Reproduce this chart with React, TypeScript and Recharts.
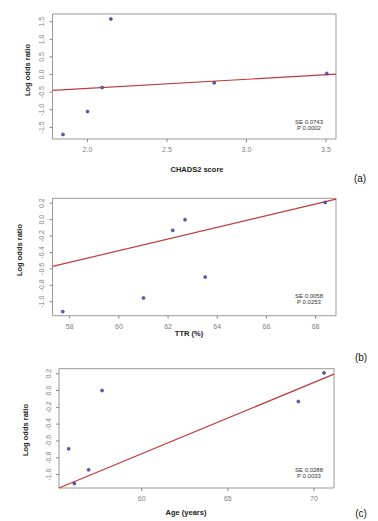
import React from 'react';
import { ScatterChart, Scatter, XAxis, YAxis, ReferenceArea, ReferenceLine } from 'recharts';

const FONT = '"Liberation Sans", Arial, sans-serif';

// (a) CHADS2 score
const chadsX = [1.846, 2.0, 2.092, 2.147, 2.797, 3.505];
const chadsY = [-1.7, -1.05, -0.37, 1.58, -0.236, 0.03];
const chadsXTicks = [2.0, 2.5, 3.0, 3.5];
const chadsYTicks = [-1.5, -1.0, -0.5, 0.0, 0.5, 1.0, 1.5];
const chadsFit = { intercept: -0.909, slope: 0.258 };
const chadsStats = ['SE 0.0743', 'P 0.0002'];

// (b) TTR
const ttrX = [57.72, 61.0, 62.19, 62.69, 63.51, 68.39];
const ttrY = [-1.12, -0.954, -0.13, 0.0, -0.7, 0.21];
const ttrXTicks = [58, 60, 62, 64, 66, 68];
const ttrYTicks = [-1.0, -0.8, -0.6, -0.4, -0.2, 0.0, 0.2];
const ttrFit = { intercept: -4.644, slope: 0.0711 };
const ttrStats = ['SE 0.0058', 'P 0.0253'];

// (c) Age
const ageX = [55.76, 56.09, 56.92, 57.7, 69.09, 70.58];
const ageY = [-0.694, -1.107, -0.944, 0.0, -0.13, 0.21];
const ageXTicks = [60, 65, 70];
const ageYTicks = [-1.0, -0.8, -0.6, -0.4, -0.2, 0.0, 0.2];
const ageFit = { intercept: -5.846, slope: 0.0849 };
const ageStats = ['SE 0.0288', 'P 0.0033'];

const toPoints = (xs: number[], ys: number[]) => xs.map((x, i) => ({ x, y: ys[i] }));

const Dot = (props: any) => (
  <circle cx={props.cx} cy={props.cy} r={1.5} fill="#6464b4" stroke="#2e2e80" strokeWidth={0.6} />
);

const YTick = ({ x, y, payload, fmt }: any) => (
  <text
    x={x}
    y={y}
    transform={`rotate(-90 ${x} ${y})`}
    textAnchor="middle"
    fontSize={7}
    fill="#808080"
    fontFamily={FONT}
  >
    {fmt(payload.value)}
  </text>
);

type PanelProps = {
  top: number;
  height: number;
  margin: { top: number; right: number; bottom: number; left: number };
  yWidth: number;
  xs: number[];
  ys: number[];
  xDomain: [number, number];
  yDomain: [number, number];
  xTicks: number[];
  yTicks: number[];
  fmtX: (v: number) => string;
  fmtY: (v: number) => string;
  fit: { intercept: number; slope: number };
  xTitle: string;
  xTitlePos: [number, number];
  yTitlePos: [number, number];
  stats: string[];
  statsPos: [number, number];
  tag: string;
  tagPos: [number, number];
};

function Panel(p: PanelProps) {
  const [x0, x1] = p.xDomain;
  const seg = [
    { x: x0, y: p.fit.intercept + p.fit.slope * x0 },
    { x: x1, y: p.fit.intercept + p.fit.slope * x1 },
  ];
  const label = (left: number, top: number, extra: React.CSSProperties, text: React.ReactNode) => (
    <div
      style={{
        position: 'absolute',
        left,
        top,
        transform: 'translate(-50%, -50%)',
        whiteSpace: 'nowrap',
        fontFamily: FONT,
        ...extra,
      }}
    >
      {text}
    </div>
  );
  return (
    <div style={{ position: 'absolute', left: 0, top: p.top, width: 378, height: p.height }}>
      <ScatterChart width={378} height={p.height} margin={p.margin}>
        <XAxis
          type="number"
          dataKey="x"
          domain={p.xDomain}
          ticks={p.xTicks}
          allowDataOverflow
          axisLine={false}
          tickLine={{ stroke: '#888' }}
          tickSize={3}
          tickMargin={5}
          height={20}
          tickFormatter={p.fmtX}
          tick={{ fontSize: 7, fill: '#808080', fontFamily: FONT }}
          interval={0}
        />
        <YAxis
          type="number"
          dataKey="y"
          domain={p.yDomain}
          ticks={p.yTicks}
          allowDataOverflow
          axisLine={false}
          tickLine={{ stroke: '#888' }}
          tickSize={3}
          tickMargin={5}
          width={p.yWidth}
          interval={0}
          tick={(t: any) => <YTick {...t} fmt={p.fmtY} />}
        />
        <ReferenceArea
          x1={p.xDomain[0]}
          x2={p.xDomain[1]}
          y1={p.yDomain[0]}
          y2={p.yDomain[1]}
          fill="none"
          stroke="#999"
          strokeWidth={1}
        />
        <ReferenceLine segment={seg} stroke="#c0393b" strokeWidth={1.2} />
        <Scatter data={toPoints(p.xs, p.ys)} shape={Dot} isAnimationActive={false} />
      </ScatterChart>
      {label(p.xTitlePos[0], p.xTitlePos[1], { fontSize: 7.5, fontWeight: 'bold', color: '#222' }, p.xTitle)}
      {label(
        p.yTitlePos[0],
        p.yTitlePos[1],
        { fontSize: 7.5, fontWeight: 'bold', color: '#222', transform: 'translate(-50%, -50%) rotate(-90deg)' },
        'Log odds ratio'
      )}
      {label(
        p.statsPos[0],
        p.statsPos[1],
        { fontSize: 6, color: '#333', textAlign: 'center', lineHeight: '6px' },
        <>
          {p.stats[0]}
          <br />
          {p.stats[1]}
        </>
      )}
      {label(p.tagPos[0], p.tagPos[1], { fontSize: 10, color: '#111' }, p.tag)}
    </div>
  );
}

const one = (v: number) => v.toFixed(1);
const int = (v: number) => String(v);

export default function App() {
  return (
    <div style={{ position: 'absolute', left: 0, top: 0, width: 378, height: 521, background: '#fff' }}>
      <Panel
        top={0}
        height={175}
        margin={{ top: 14, right: 42, bottom: 16, left: 0 }}
        yWidth={52.5}
        xs={chadsX}
        ys={chadsY}
        xDomain={[1.78, 3.563]}
        yDomain={[-1.83, 1.72]}
        xTicks={chadsXTicks}
        yTicks={chadsYTicks}
        fmtX={one}
        fmtY={one}
        fit={chadsFit}
        xTitle="CHADS2 score"
        xTitlePos={[197, 169]}
        yTitlePos={[27, 70]}
        stats={chadsStats}
        statsPos={[309, 125]}
        tag="(a)"
        tagPos={[360, 178]}
      />
      <Panel
        top={175}
        height={175}
        margin={{ top: 23.3, right: 42, bottom: 14.3, left: 0 }}
        yWidth={52.5}
        xs={ttrX}
        ys={ttrY}
        xDomain={[57.3, 68.83]}
        yDomain={[-1.17, 0.26]}
        xTicks={ttrXTicks}
        yTicks={ttrYTicks}
        fmtX={int}
        fmtY={one}
        fit={ttrFit}
        xTitle="TTR (%)"
        xTitlePos={[189, 158]}
        yTitlePos={[19, 75]}
        stats={ttrStats}
        statsPos={[309, 124]}
        tag="(b)"
        tagPos={[361, 182]}
      />
      <Panel
        top={350}
        height={171}
        margin={{ top: 18.7, right: 44, bottom: 13, left: 0 }}
        yWidth={59}
        xs={ageX}
        ys={ageY}
        xDomain={[55.2, 71.16]}
        yDomain={[-1.16, 0.26]}
        xTicks={ageXTicks}
        yTicks={ageYTicks}
        fmtX={int}
        fmtY={one}
        fit={ageFit}
        xTitle="Age (years)"
        xTitlePos={[186, 162]}
        yTitlePos={[25, 80]}
        stats={ageStats}
        statsPos={[309, 123]}
        tag="(c)"
        tagPos={[361, 163]}
      />
    </div>
  );
}
